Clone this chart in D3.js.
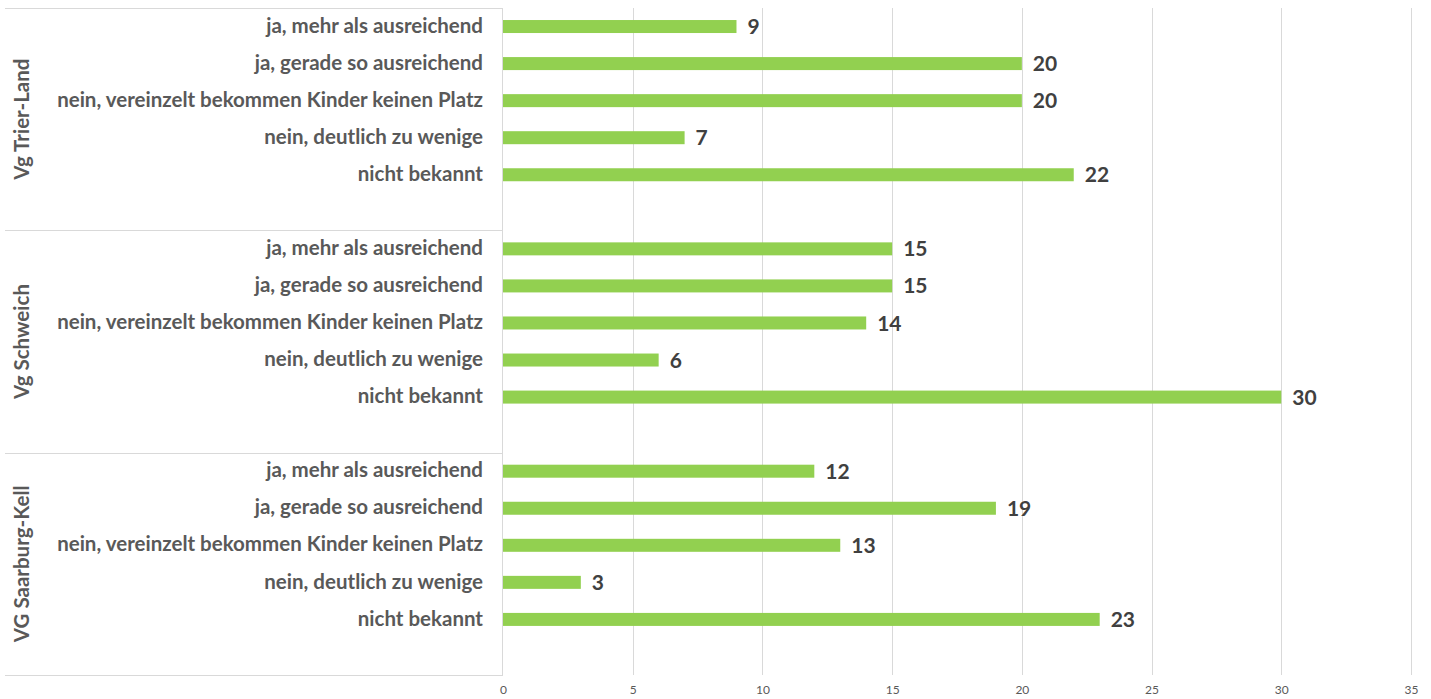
<!DOCTYPE html>
<html>
<head>
<meta charset="utf-8">
<script src="https://cdn.jsdelivr.net/npm/d3@7"></script>
<style>
  html, body { margin: 0; padding: 0; background: #fff; }
  svg { display: block; }
</style>
</head>
<body>
<svg id="chart" width="1431" height="699"></svg>
<script>
// Regions (outer category level), top to bottom
const groups = ["Vg Trier-Land", "Vg Schweich", "VG Saarburg-Kell"];
// Answer options (inner category level), top to bottom within each region
const answers = [
  "ja, mehr als ausreichend",
  "ja, gerade so ausreichend",
  "nein, vereinzelt bekommen Kinder keinen Platz",
  "nein, deutlich zu wenige",
  "nicht bekannt"
];
// Counts per region, in the order of `answers`
const valuesTrierLand = [9, 20, 20, 7, 22];
const valuesSchweich = [15, 15, 14, 6, 30];
const valuesSaarburgKell = [12, 19, 13, 3, 23];
const tickValues = [0, 5, 10, 15, 20, 25, 30, 35];

const seriesByGroup = [valuesTrierLand, valuesSchweich, valuesSaarburgKell];
const rows = [];
groups.forEach((g, gi) => {
  answers.forEach((a, ai) => {
    rows.push({ key: g + "|" + a, group: g, answer: a, value: seriesByGroup[gi][ai] });
  });
  rows.push({ key: g + "|_gap", group: g, answer: null, value: null });
});

const svg = d3.select("#chart");
const plotLeft = 503, plotRight = 1411, plotTop = 8, plotBottom = 675;

const x = d3.scaleLinear().domain([0, 35]).range([plotLeft, plotRight]);
const y = d3.scaleBand().domain(rows.map(r => r.key)).range([plotTop, plotBottom]).paddingInner(0).paddingOuter(0);
const barH = 13;

const labelColor = "#595959";
const fontFam = "Lato, 'Open Sans', sans-serif";

// vertical gridlines
svg.append("g")
  .selectAll("line")
  .data(tickValues.filter(t => t > 0))
  .join("line")
  .attr("x1", d => Math.round(x(d)) + 0.5).attr("x2", d => Math.round(x(d)) + 0.5)
  .attr("y1", plotTop).attr("y2", plotBottom)
  .attr("stroke", "#d9d9d9").attr("stroke-width", 1);

// category axis frame: group separators and vertical axis line
const sepYs = [plotTop].concat(groups.map(g => y(g + "|_gap") + y.bandwidth()));
svg.append("g")
  .selectAll("line")
  .data(sepYs)
  .join("line")
  .attr("x1", 5).attr("x2", plotLeft)
  .attr("y1", d => Math.round(d) + 0.5).attr("y2", d => Math.round(d) + 0.5)
  .attr("stroke", "#d9d9d9").attr("stroke-width", 1);
svg.append("line")
  .attr("x1", plotLeft - 0.5).attr("x2", plotLeft - 0.5)
  .attr("y1", plotTop).attr("y2", plotBottom + 1)
  .attr("stroke", "#d9d9d9").attr("stroke-width", 1);

// bars
const data = rows.filter(r => r.value !== null);
svg.append("g")
  .selectAll("rect")
  .data(data)
  .join("rect")
  .attr("x", x(0))
  .attr("y", d => y(d.key) + y.bandwidth() / 2 - barH / 2)
  .attr("width", d => x(d.value) - x(0))
  .attr("height", barH)
  .attr("fill", "#92d050");

// value labels
svg.append("g")
  .selectAll("text")
  .data(data)
  .join("text")
  .attr("x", d => x(d.value) + 11)
  .attr("y", d => y(d.key) + y.bandwidth() / 2)
  .attr("dy", "0.36em")
  .attr("font-family", fontFam)
  .attr("font-weight", 700)
  .attr("font-size", 21)
  .attr("fill", "#404040")
  .text(d => d.value);

// inner category labels
svg.append("g")
  .selectAll("text")
  .data(data)
  .join("text")
  .attr("x", 483)
  .attr("y", d => y(d.key) + y.bandwidth() / 2)
  .attr("dy", "0.3em")
  .attr("text-anchor", "end")
  .attr("font-family", fontFam)
  .attr("font-weight", 700)
  .attr("font-size", 20.5)
  .attr("fill", labelColor)
  .text(d => d.answer);

// outer (region) labels, rotated
svg.append("g")
  .selectAll("text")
  .data(groups)
  .join("text")
  .attr("transform", (g, i) => {
    const cy = (sepYs[i] + sepYs[i + 1]) / 2;
    return `translate(22,${cy}) rotate(-90)`;
  })
  .attr("dy", "0.35em")
  .attr("text-anchor", "middle")
  .attr("font-family", fontFam)
  .attr("font-weight", 700)
  .attr("font-size", 20.5)
  .attr("fill", labelColor)
  .text(d => d);

// value axis tick labels
const xAxis = d3.axisBottom(x).tickValues(tickValues).tickSize(0).tickPadding(0);
const ax = svg.append("g").attr("transform", `translate(0,${plotBottom + 10})`).call(xAxis);
ax.select(".domain").remove();
ax.selectAll("text")
  .attr("font-family", fontFam)
  .attr("font-size", 12)
  .attr("fill", labelColor)
  .attr("dy", "0.71em");
</script>
</body>
</html>
